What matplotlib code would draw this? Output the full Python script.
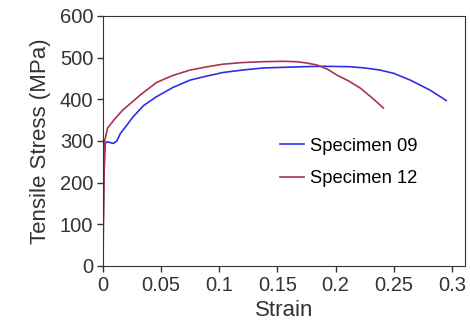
import numpy as np
import matplotlib.pyplot as plt

plt.rcParams['font.family'] = ['Liberation Sans', 'DejaVu Sans']

# Specimen 09 (blue)
strain_09 = [0.0, 0.0008, 0.0015, 0.002, 0.004, 0.006, 0.009, 0.012, 0.015, 0.019,
             0.026, 0.035, 0.046, 0.06, 0.075, 0.09, 0.103, 0.12, 0.138, 0.161,
             0.172, 0.19, 0.212, 0.225, 0.238, 0.25, 0.264, 0.281, 0.295]
stress_09 = [60, 210, 270, 295, 298, 296, 294, 300, 318, 332,
             358, 385, 406, 428, 446, 456, 464, 470, 475, 477,
             478, 479, 478, 475, 470, 462, 446, 422, 397]

# Specimen 12 (red)
strain_12 = [0.0, 0.0008, 0.0015, 0.004, 0.01, 0.017, 0.025, 0.032, 0.046, 0.06,
             0.075, 0.09, 0.103, 0.12, 0.138, 0.155, 0.166, 0.175, 0.184, 0.193,
             0.201, 0.211, 0.221, 0.231, 0.241]
stress_12 = [0, 180, 300, 331, 352, 374, 393, 410, 440, 457,
             470, 478, 484, 488, 490, 491, 490, 487, 482, 472,
             458, 444, 427, 404, 379]

fig, ax = plt.subplots(figsize=(4.7, 3.3), dpi=100)
fig.subplots_adjust(left=0.219, right=0.989, top=0.952, bottom=0.194)

ax.plot(strain_09, stress_09, color='#2f2fe8', lw=1.2, label='Specimen 09')
ax.plot(strain_12, stress_12, color='#a8344e', lw=1.2, label='Specimen 12')

ax.set_xlim(0, 0.311)
ax.set_ylim(0, 600)
ax.set_xticks([0, 0.05, 0.1, 0.15, 0.2, 0.25, 0.3])
ax.set_xticklabels(['0', '0.05', '0.1', '0.15', '0.2', '0.25', '0.3'])
ax.set_yticks(range(0, 601, 100))
ax.tick_params(labelsize=14.5, length=4, width=1, colors='#333333', pad=3)
ax.set_xlabel('Strain', fontsize=16, color='#333333', labelpad=4)
ax.set_ylabel('Tensile Stress (MPa)', fontsize=16, color='#333333', labelpad=6)
for s in ax.spines.values():
    s.set_color('#333333')

ax.legend(loc='center left', bbox_to_anchor=(0.489, 0.414), frameon=False,
          fontsize=13.2, handlelength=1.3, handletextpad=0.35, labelspacing=0.85,
          borderpad=0, borderaxespad=0)

fig.savefig('out.png', dpi=100)
